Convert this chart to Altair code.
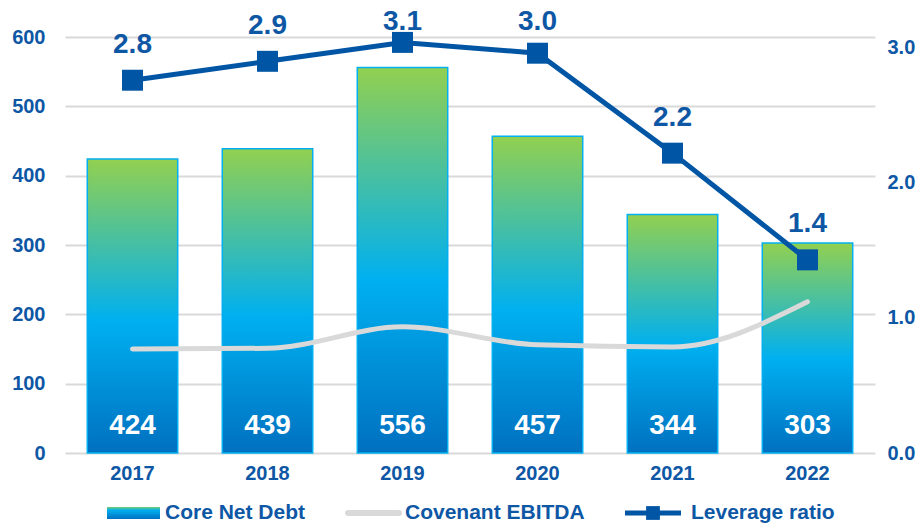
import altair as alt
import pandas as pd

years = ["2017", "2018", "2019", "2020", "2021", "2022"]
core_net_debt = [424, 439, 556, 457, 344, 303]
covenant_ebitda = [150, 151, 182, 156, 153, 218]
leverage = [2.76, 2.90, 3.04, 2.96, 2.22, 1.43]
leverage_labels = ["2.8", "2.9", "3.1", "3.0", "2.2", "1.4"]
legend_labels = ["Core Net Debt", "Covenant EBITDA", "Leverage ratio"]
left_ticks = [0, 100, 200, 300, 400, 500, 600]
right_ticks = [0, 1, 2, 3]

df = pd.DataFrame({
    "year": years,
    "debt": core_net_debt,
    "ebitda": covenant_ebitda,
    "lev": leverage,
    "lev_label": leverage_labels,
})
one = pd.DataFrame({"k": [0]})

FONT = "Liberation Sans"
TEXT = "#0E57A5"
BLUE = "#0055A4"
GREY = "#D9D9D9"

grad = alt.LinearGradient(
    gradient="linear", x1=0, x2=0, y1=1, y2=0,
    stops=[
        alt.GradientStop(color="#0070C0", offset=0),
        alt.GradientStop(color="#00B0F0", offset=0.45),
        alt.GradientStop(color="#92D050", offset=1),
    ],
)
leg_grad = alt.LinearGradient(
    gradient="linear", x1=0, x2=0, y1=0, y2=1,
    stops=[
        alt.GradientStop(color="#7CCB6A", offset=0),
        alt.GradientStop(color="#00B0F0", offset=0.25),
        alt.GradientStop(color="#0070C0", offset=1),
    ],
)

x = alt.X(
    "year:N", sort=years,
    scale=alt.Scale(paddingInner=0.33, paddingOuter=0.165),
    axis=alt.Axis(title=None, labelAngle=0, labelFont=FONT, labelFontSize=20,
                  labelFontWeight="bold", labelColor=TEXT, labelPadding=10,
                  ticks=False, domain=False),
)

base = alt.Chart(df)

bars = base.mark_bar(fill=grad, stroke="#00B0F0", strokeWidth=1.5).encode(
    x=x,
    y=alt.Y("debt:Q", scale=alt.Scale(domain=[0, 600], nice=False),
            axis=alt.Axis(title=None, values=left_ticks, labelFont=FONT,
                          labelFontSize=20, labelFontWeight="bold",
                          labelColor=TEXT, labelPadding=20, ticks=False,
                          domain=False, gridColor=GREY, gridWidth=2)),
)
ebitda_line = base.mark_line(color=GREY, strokeWidth=5, interpolate="monotone",
                             strokeCap="round").encode(x=x, y="ebitda:Q")
bar_text = base.mark_text(font=FONT, fontSize=28, fontWeight="bold", color="white",
                          baseline="middle", dy=-27).encode(
    x=x, y=alt.YDatum(0), text="debt:Q")

left = alt.layer(bars, ebitda_line, bar_text)

lev_y = alt.Y("lev:Q", scale=alt.Scale(domain=[0, 3.08], nice=False),
              axis=alt.Axis(title=None, orient="right", values=right_ticks,
                            format=".1f", labelFont=FONT, labelFontSize=20,
                            labelFontWeight="bold", labelColor=TEXT,
                            labelPadding=12, ticks=False, domain=False,
                            grid=False))
lev_line = base.mark_line(color=BLUE, strokeWidth=5).encode(x=x, y=lev_y)
lev_pts = base.mark_point(shape="square", filled=True, size=440, color=BLUE,
                          opacity=1).encode(x=x, y="lev:Q")
lev_text = base.transform_calculate(
    lab_pos="min(datum.lev + 0.262, 3.19)"
).mark_text(font=FONT, fontSize=28, fontWeight="bold", color=TEXT,
            baseline="middle").encode(
    x=x, y="lab_pos:Q", text="lev_label:N")

right = alt.layer(lev_line, lev_pts, lev_text)

lc = alt.Chart(one)
ly = 476
leg = alt.layer(
    lc.mark_rect(fill=leg_grad).encode(x=alt.value(42), x2=alt.value(95),
                                       y=alt.value(ly - 6), y2=alt.value(ly + 6)),
    lc.mark_text(font=FONT, fontSize=21, fontWeight="bold", color=TEXT, align="left",
                 baseline="middle", text=legend_labels[0]).encode(
        x=alt.value(100), y=alt.value(ly)),
    lc.mark_rule(color=GREY, strokeWidth=6, strokeCap="round").encode(
        x=alt.value(283), x2=alt.value(334), y=alt.value(ly)),
    lc.mark_text(font=FONT, fontSize=21, fontWeight="bold", color=TEXT, align="left",
                 baseline="middle", text=legend_labels[1]).encode(
        x=alt.value(340), y=alt.value(ly)),
    lc.mark_rule(color=BLUE, strokeWidth=5).encode(
        x=alt.value(560), x2=alt.value(616), y=alt.value(ly)),
    lc.mark_point(shape="square", filled=True, size=190, color=BLUE, opacity=1).encode(
        x=alt.value(588), y=alt.value(ly)),
    lc.mark_text(font=FONT, fontSize=21, fontWeight="bold", color=TEXT, align="left",
                 baseline="middle", text=legend_labels[2]).encode(
        x=alt.value(626), y=alt.value(ly)),
)

chart = alt.layer(left, right, leg).resolve_scale(y="independent").properties(
    width=810, height=416,
    autosize=alt.AutoSizeParams(type="none"),
    padding={"left": 57, "top": 29, "right": 41, "bottom": 71},
).configure_view(stroke=None)

chart.save("out.html", embed_options={"renderer": "svg", "actions": False})
